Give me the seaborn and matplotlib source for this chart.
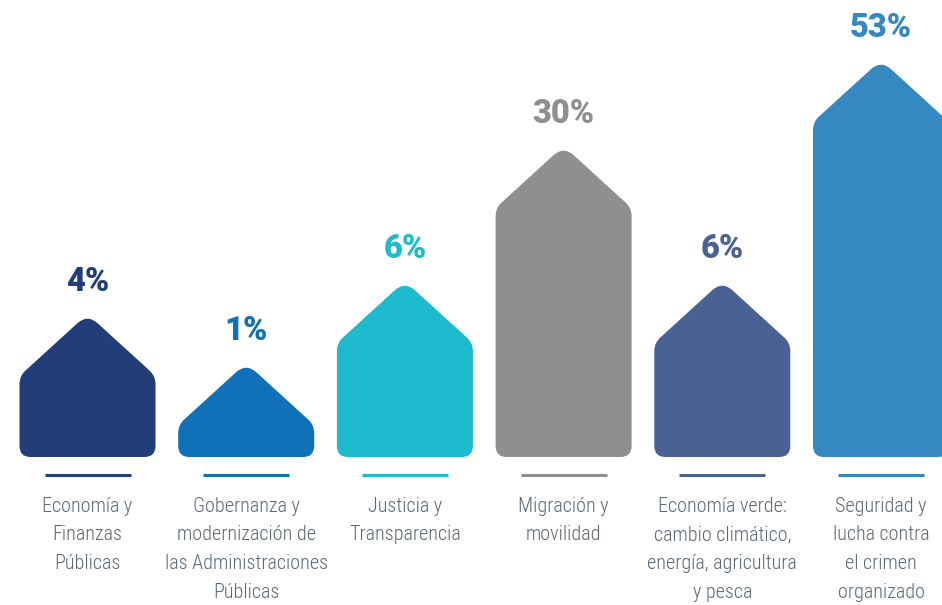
import numpy as np
import pandas as pd
import matplotlib
matplotlib.use("Agg")
import matplotlib.pyplot as plt
import seaborn as sns
from matplotlib.path import Path
from matplotlib.patches import PathPatch
from matplotlib import font_manager

# ---------------- data ----------------
categories = [
    "Economía y\nFinanzas\nPúblicas",
    "Gobernanza y\nmodernización de\nlas Administraciones\nPúblicas",
    "Justicia y\nTransparencia",
    "Migración y\nmovilidad",
    "Economía verde:\ncambio climático,\nenergía, agricultura\ny pesca",
    "Seguridad y\nlucha contra\nel crimen\norganizado",
]
percent_values = [4, 1, 6, 30, 6, 53]
percent_labels = [f"{v}%" for v in percent_values]
# visual height of each "house" as drawn in the source (chart is not to scale)
house_heights = [139, 90, 172, 307, 172, 393]
colors = ["#213e78", "#1071b8", "#1ebacd", "#8e8f91", "#4a6194", "#3588c2"]
text_gray = "#5a6773"

# ---------------- style ----------------
sns.set_theme(style="white")
installed = {f.name for f in font_manager.fontManager.ttflist}
cond_font = next((f for f in ["Liberation Sans Narrow", "Roboto Condensed",
                              "Roboto"] if f in installed), "DejaVu Sans")
bold_font = "Roboto" if "Roboto" in installed else "DejaVu Sans"

W, H = 942, 605
STEP = 158.7      # px between category centres
X0 = 87.5         # px of first centre
BASE = 457        # px (from top) of bar baseline

fig = plt.figure(figsize=(W / 100, H / 100), dpi=100)
ax = fig.add_axes([0, 0, 1, 1])

df = pd.DataFrame({"cat": categories, "h": house_heights})
sns.barplot(data=df, x="cat", y="h", hue="cat", palette=colors,
            width=136 / STEP, saturation=1, legend=False, ax=ax)

ax.set_xlim(-X0 / STEP, (W - X0) / STEP)
ax.set_ylim(BASE - H, BASE)
ax.axis("off")


def rounded_path(pts, radii):
    n = len(pts)
    verts, codes = [], []
    for i in range(n):
        p = np.array(pts[i], float)
        prev = np.array(pts[i - 1], float)
        nxt = np.array(pts[(i + 1) % n], float)
        d1 = prev - p
        d1 /= np.linalg.norm(d1)
        d2 = nxt - p
        d2 /= np.linalg.norm(d2)
        a = p + d1 * radii[i]
        b = p + d2 * radii[i]
        verts.append(a)
        codes.append(Path.MOVETO if i == 0 else Path.LINETO)
        verts += [p, b]
        codes += [Path.CURVE3, Path.CURVE3]
    verts.append(verts[0])
    codes.append(Path.CLOSEPOLY)
    v = np.array(verts)
    v[:, 0] /= STEP
    return Path(v, codes)


ROOF_DROP = 58
APEX_UP = 4
patches = list(ax.patches)
for i, p in enumerate(patches):
    x, w, h = p.get_x(), p.get_width(), p.get_height()
    col = p.get_facecolor()
    p.remove()
    xl, xr = x * STEP, (x + w) * STEP
    xc = (xl + xr) / 2
    pts = [(xl, 0), (xr, 0), (xr, h - ROOF_DROP), (xc, h + APEX_UP), (xl, h - ROOF_DROP)]
    radii = [11, 11, 8, 14, 8]
    ax.add_patch(PathPatch(rounded_path(pts, radii), facecolor=col, edgecolor="none"))

    cx = x + w / 2
    ax.text(cx, h + 27, percent_labels[i], ha="center", va="baseline",
            color=colors[i], fontsize=23.5, fontweight="heavy", family=bold_font)
    ax.plot([cx - 43 / STEP, cx + 43 / STEP], [BASE - 475] * 2, color=colors[i],
            lw=2.2, solid_capstyle="butt")
    for k, line in enumerate(categories[i].split("\n")):
        ax.text(cx, BASE - (512 + 28.5 * k), line, ha="center", va="baseline",
                color=text_gray, fontsize=14.5, fontweight="light", family=cond_font)

fig.savefig("out.png", dpi=100)
